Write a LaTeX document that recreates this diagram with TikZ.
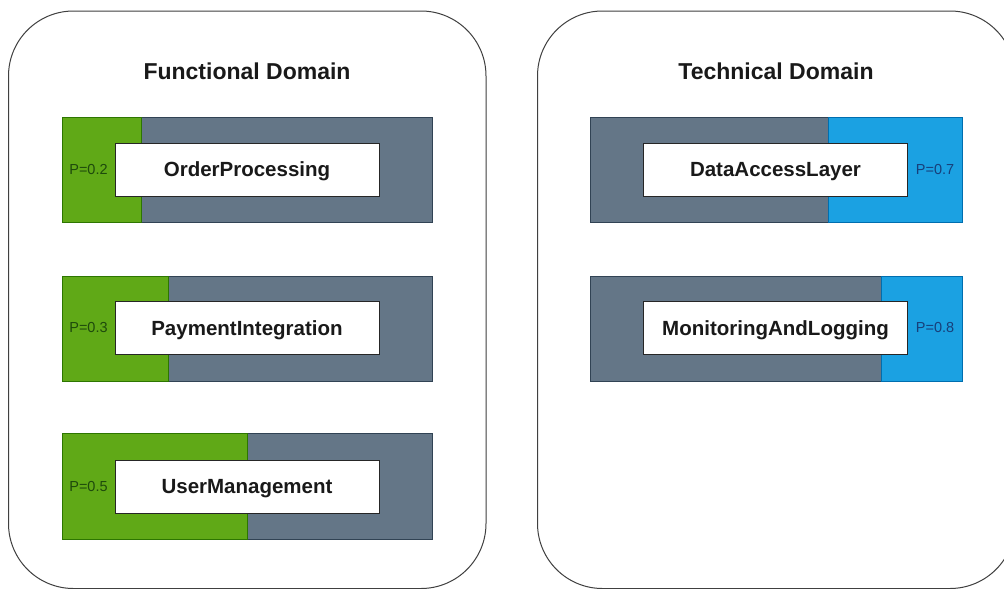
\documentclass[tikz,border=0pt]{standalone}
\usepackage{fontspec}
\setmainfont{Liberation Sans}
\definecolor{grn}{HTML}{60A917}
\definecolor{grnb}{HTML}{2D7600}
\definecolor{gry}{HTML}{647687}
\definecolor{gryb}{HTML}{314354}
\definecolor{blu}{HTML}{1BA1E2}
\definecolor{blub}{HTML}{006EAF}
\definecolor{grntxt}{HTML}{1E4A0C}
\definecolor{blutxt}{HTML}{173F7A}
\begin{document}
\begin{tikzpicture}[x=1pt,y=-1pt,
  container/.style={draw=black!75, line width=1pt, rounded corners=65pt, fill=white},
  title/.style={font=\bfseries\fontsize{23}{26}\selectfont, text=black!90},
  bar/.style={draw=gryb, fill=gry, line width=0.6pt},
  gpart/.style={draw=grnb, fill=grn, line width=0.6pt},
  bpart/.style={draw=blub, fill=blu, line width=0.6pt},
  comp/.style={draw=black!85, fill=white, line width=0.8pt, inner sep=0pt, minimum width=264pt, minimum height=53pt, text height=14.7pt, text depth=0pt, font=\bfseries\fontsize{20.5}{24}\selectfont, text=black!90},
  plab/.style={font=\fontsize{14.5}{17}\selectfont, inner sep=0pt},
]
\clip (0,0) rectangle (1004,589);
\fill[white] (0,0) rectangle (1004,589);
% containers
\draw[container] (8.5,11) rectangle (486,588.5);
\draw[container] (537.5,11) rectangle (1015,588.5);
\node[title] (ft) at (247,71) {Functional Domain};
\node[title] (tt) at (776,71) {Technical Domain};
% Functional bars
\draw[bar] (62,117) rectangle (432,222);
\draw[gpart] (62,117) rectangle (141,222);
\node[comp] (op) at (247,169.5) {OrderProcessing};
\node[plab, text=grntxt] (p1) at (88.5,169.5) {P=0.2};
\draw[bar] (62,276) rectangle (432,381);
\draw[gpart] (62,276) rectangle (168,381);
\node[comp] (pi) at (247,328) {PaymentIntegration};
\node[plab, text=grntxt] (p2) at (88.5,328) {P=0.3};
\draw[bar] (62,433) rectangle (432,539);
\draw[gpart] (62,433) rectangle (247,539);
\node[comp] (um) at (247,486.5) {UserManagement};
\node[plab, text=grntxt] (p3) at (88.5,486.5) {P=0.5};
% Technical bars
\draw[bar] (590,117) rectangle (962,222);
\draw[bpart] (828,117) rectangle (962,222);
\node[comp] (da) at (775.5,169.5) {DataAccessLayer};
\node[plab, text=blutxt] (p4) at (935,169.5) {P=0.7};
\draw[bar] (590,276) rectangle (962,381);
\draw[bpart] (881,276) rectangle (962,381);
\node[comp] (ml) at (775.5,328) {MonitoringAndLogging};
\node[plab, text=blutxt] (p5) at (935,328) {P=0.8};
\end{tikzpicture}
\end{document}
